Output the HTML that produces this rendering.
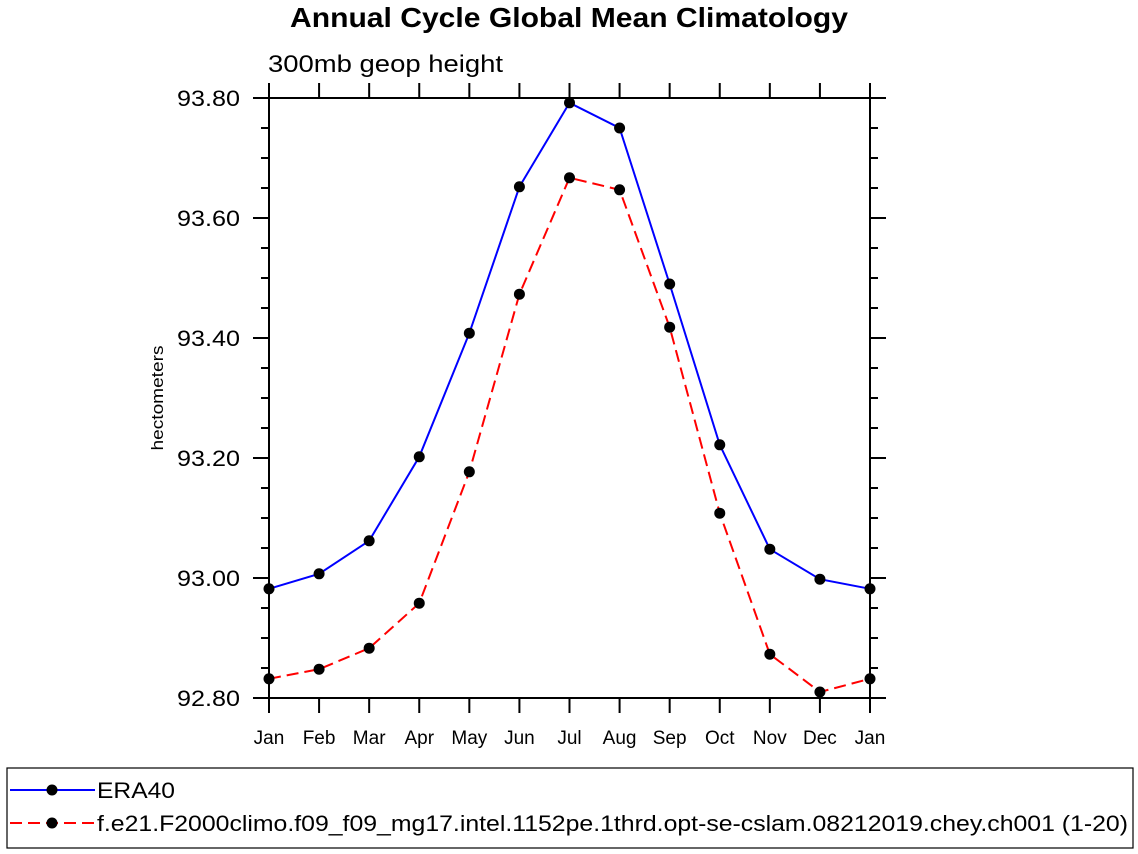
<!DOCTYPE html>
<html><head><meta charset="utf-8"><style>
body{margin:0;background:#fff;}
svg{display:block;font-family:"Liberation Sans",Arial,sans-serif;}
</style></head><body>
<svg width="1138" height="854" viewBox="0 0 1138 854">
<text x="290" y="27" textLength="558" lengthAdjust="spacingAndGlyphs" font-size="28" font-weight="bold">Annual Cycle Global Mean Climatology</text>
<text x="268" y="72" textLength="235" lengthAdjust="spacingAndGlyphs" font-size="24">300mb geop height</text>
<text transform="translate(163,398) rotate(-90)" text-anchor="middle" font-size="17" textLength="105" lengthAdjust="spacingAndGlyphs">hectometers</text>
<g id="axes"></g>
<g id="series"></g>
<rect x="7" y="768" width="1126" height="80" fill="none" stroke="#000" stroke-width="1.2"/>
<g>
<line x1="10" y1="790" x2="95" y2="790" stroke="#0000ff" stroke-width="2"/>
<circle cx="52" cy="790" r="5.5" fill="#000"/>
<text x="97" y="798" font-size="22" textLength="78" lengthAdjust="spacingAndGlyphs">ERA40</text></g>
<g>
<line x1="10" y1="823" x2="95" y2="823" stroke="#ff0000" stroke-width="2" stroke-dasharray="12,6"/>
<circle cx="52" cy="823" r="5.5" fill="#000"/>
<text x="97" y="831" font-size="22" textLength="1031" lengthAdjust="spacingAndGlyphs">f.e21.F2000climo.f09_f09_mg17.intel.1152pe.1thrd.opt-se-cslam.08212019.chey.ch001 (1-20)</text></g>
</svg>
<script>
const months=["Jan","Feb","Mar","Apr","May","Jun","Jul","Aug","Sep","Oct","Nov","Dec","Jan"];
const era40=[92.982,93.007,93.062,93.202,93.408,93.652,93.792,93.750,93.490,93.222,93.048,92.998,92.982];
const model=[92.832,92.848,92.883,92.958,93.177,93.473,93.667,93.647,93.418,93.108,92.873,92.810,92.832];
const yTicks=[92.8,93.0,93.2,93.4,93.6,93.8];
const NS="http://www.w3.org/2000/svg";
const X0=269,X1=870,Y0=698,Y1=98,YMIN=92.8,YMAX=93.8;
const xs=i=>X0+(X1-X0)*i/(months.length-1);
const ys=v=>Y0-(v-YMIN)/(YMAX-YMIN)*(Y0-Y1);
function mk(t,a,p){const e=document.createElementNS(NS,t);for(const k in a)e.setAttribute(k,a[k]);p.appendChild(e);return e;}
const ax=document.getElementById('axes');
mk('rect',{x:X0,y:Y1,width:X1-X0,height:Y0-Y1,fill:'none',stroke:'#000','stroke-width':2},ax);
for(let v=YMIN;v<=YMAX+1e-6;v+=0.05){
 const y=ys(v);const major=Math.abs(Math.round(v*5)-v*5)<1e-6;const L=major?16:8;
 const t1=mk('line',{x1:X0-L,y1:y,x2:X0,y2:y,stroke:'#000','stroke-width':2},ax);
 
 
 const t2=mk('line',{x1:X1,y1:y,x2:X1+L,y2:y,stroke:'#000','stroke-width':2},ax);
 
 
}
yTicks.forEach(v=>{
 const t=mk('text',{x:177,y:ys(v)+8,'font-size':22,textLength:63,lengthAdjust:'spacingAndGlyphs'},ax);t.textContent=v.toFixed(2);
 
 
});
months.forEach((m,i)=>{
 const x=xs(i);
 const a=mk('line',{x1:x,y1:Y0,x2:x,y2:Y0+15,stroke:'#000','stroke-width':2},ax);
 
 
 const b=mk('line',{x1:x,y1:Y1-15,x2:x,y2:Y1,stroke:'#000','stroke-width':2},ax);
 
 
 const t=mk('text',{x:x,y:744,'text-anchor':'middle','font-size':19},ax);t.textContent=m;
 
 
});
const sg=document.getElementById('series');
function drawSeries(vals,color,dash,name){
 const pts=vals.map((v,i)=>xs(i)+','+ys(v)).join(' ');
 const a={points:pts,fill:'none',stroke:color,'stroke-width':2};if(dash)a['stroke-dasharray']=dash;
 const pl=mk('polyline',a,sg);
 
 
 vals.forEach((v,i)=>{const c=mk('circle',{cx:xs(i),cy:ys(v),r:5.5,fill:'#000'},sg);
  
  });
}
drawSeries(era40,'#0000ff',null,'era40');
drawSeries(model,'#ff0000','12,6','model');
</script>
</body></html>
